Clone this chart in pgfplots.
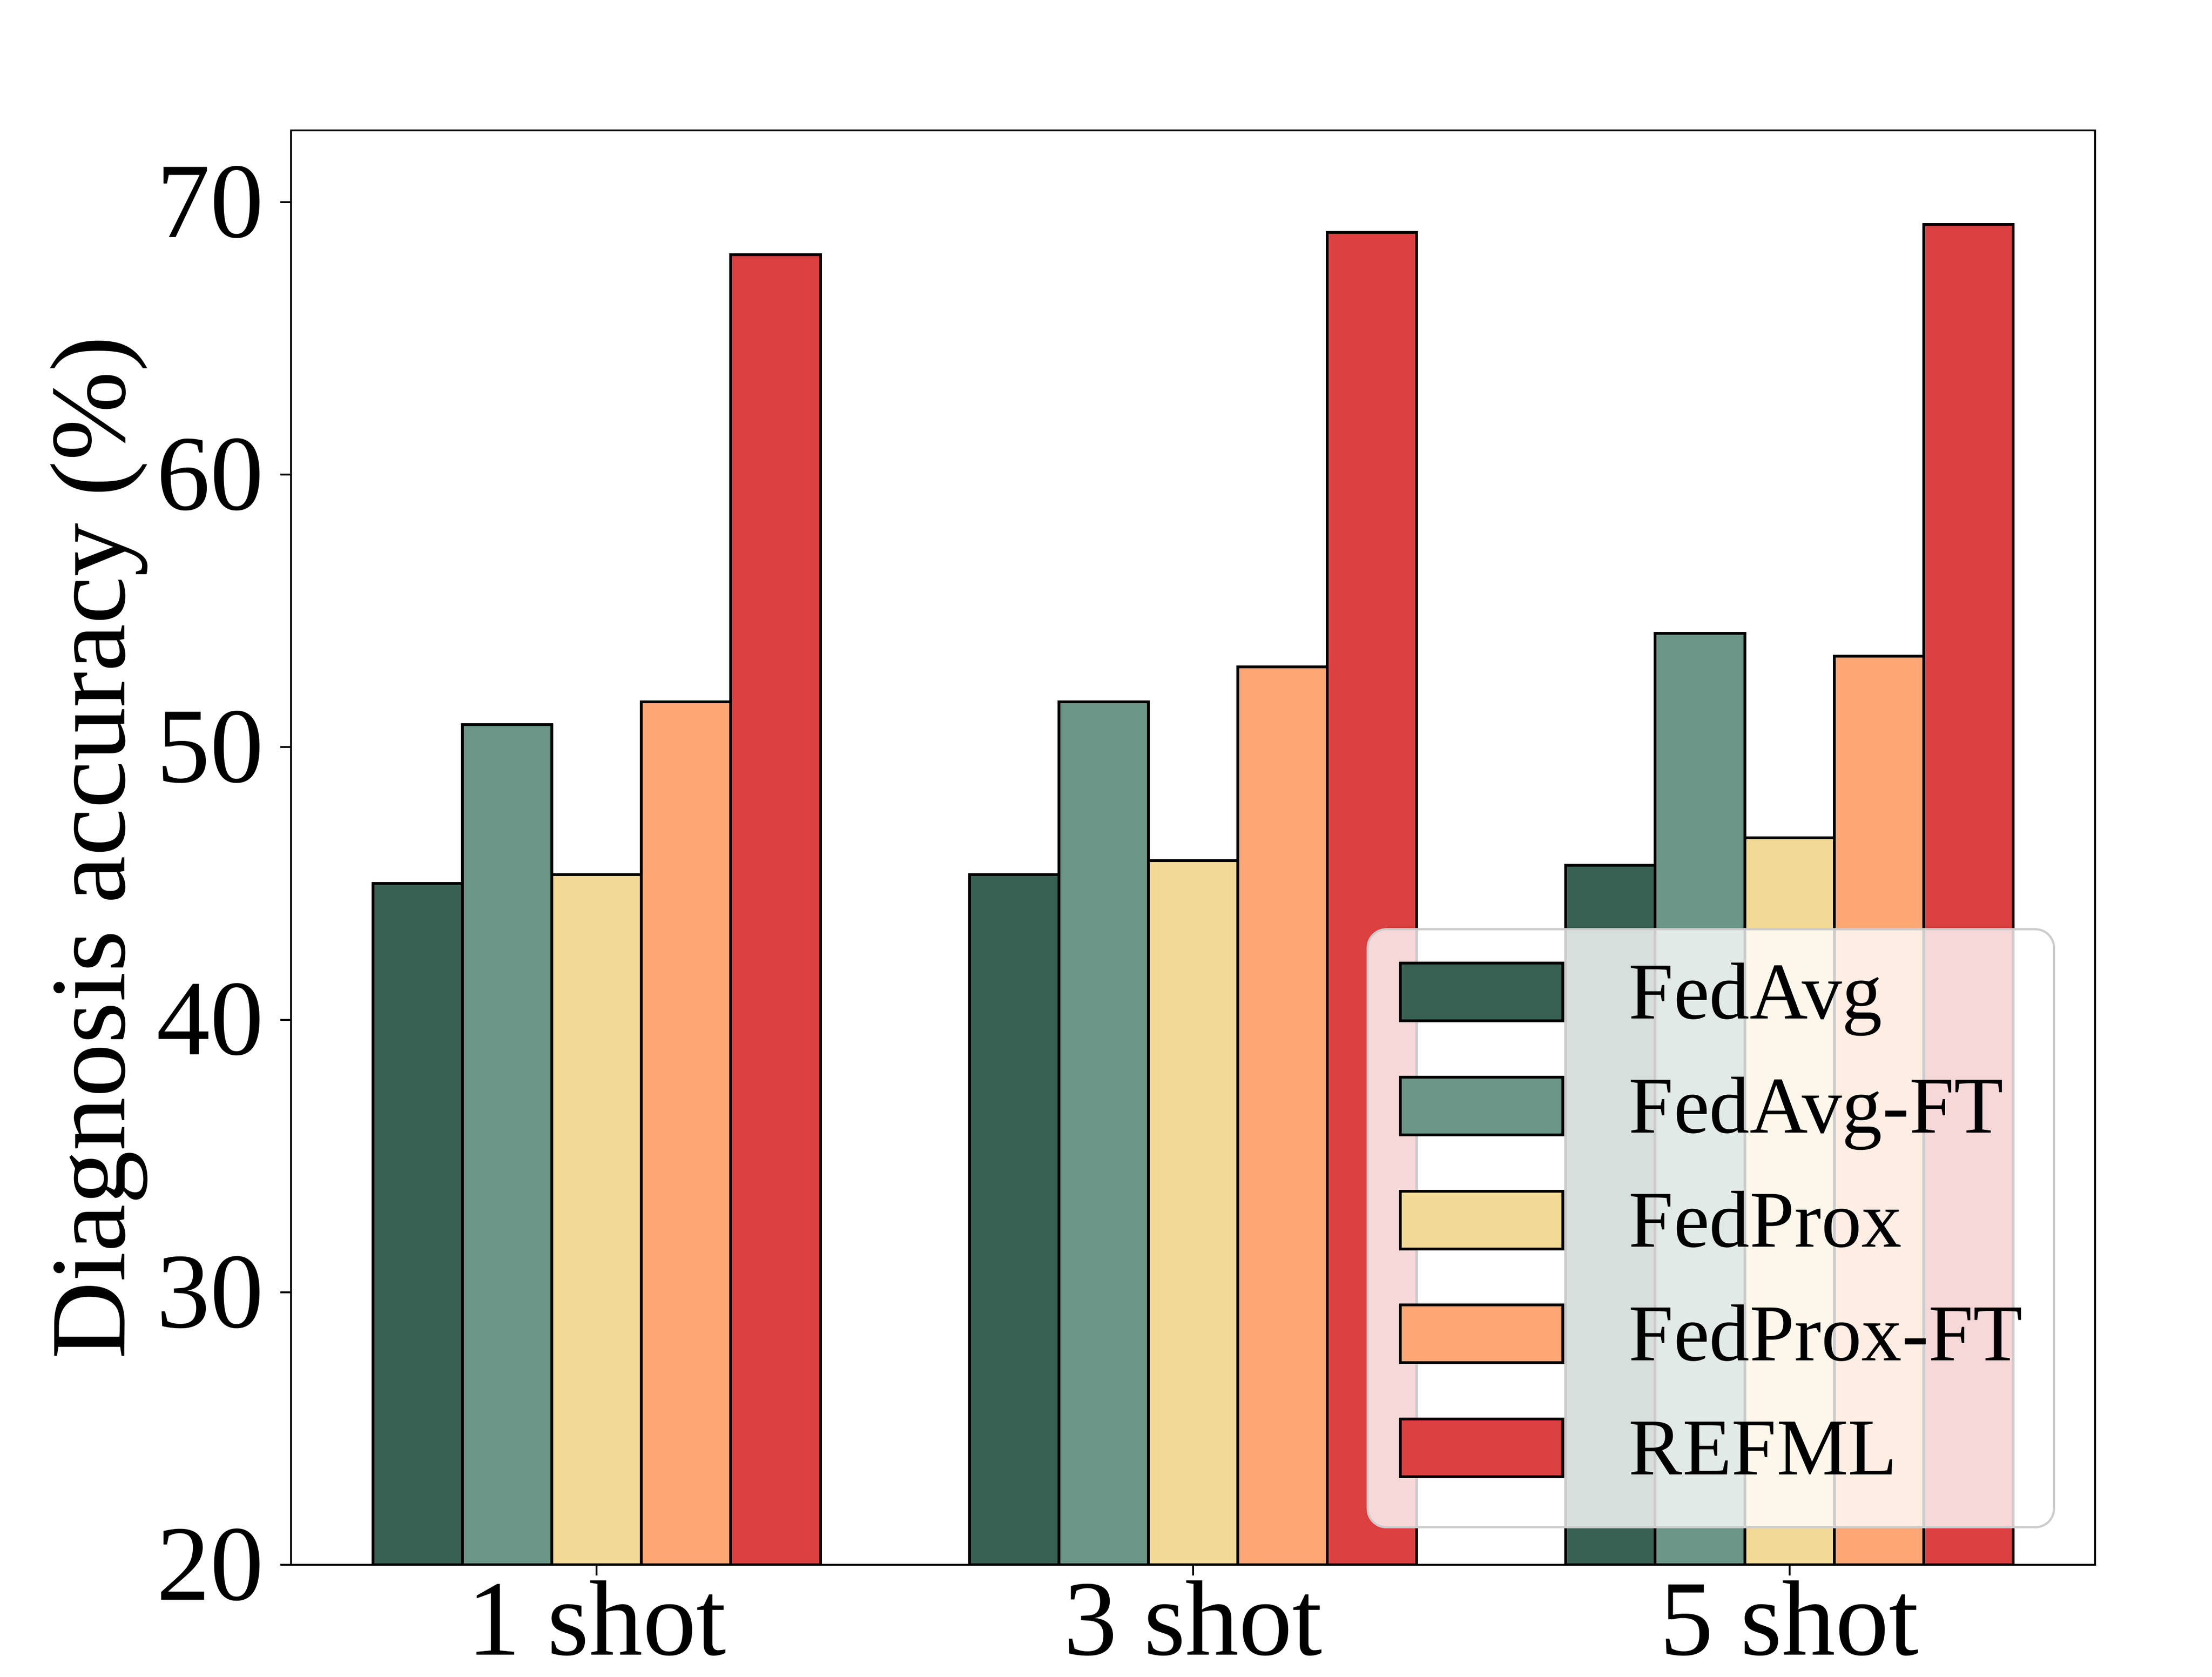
\documentclass[border=0pt]{standalone}
\usepackage{fontspec}
\setmainfont{Liberation Serif}
\usepackage{pgfplots}
\pgfplotsset{compat=1.18}
\definecolor{cA}{HTML}{386154}
\definecolor{cB}{HTML}{6B9687}
\definecolor{cC}{HTML}{F2DA96}
\definecolor{cD}{HTML}{FEA674}
\definecolor{cE}{HTML}{DB4041}
\begin{document}
\begin{tikzpicture}
\path[use as bounding box] (-62.5pt,-24pt) rectangle (412.5pt,336pt);
\begin{axis}[
  at={(0,0)}, anchor=south west,
  width=387.4pt, height=308pt, scale only axis,
  xmin=-0.5125, xmax=2.5125, ymin=20, ymax=72.63,
  xtick={0,1,2}, xticklabels={1 shot,3 shot,5 shot},
  ytick={20,30,40,50,60,70},
  tick pos=left, tick align=outside, major tick length=2.3pt,
  axis line style={line width=0.4pt},
  every tick/.style={black, line width=0.4pt},
  /pgf/number format/assume math mode=true,
  ticklabel style={font=\fontsize{23}{27}\selectfont, inner sep=0pt},
  yticklabel style={xshift=-3.3pt},
  xticklabel style={yshift=-0.9pt},
  every axis y label/.style={at={(axis description cs:-0.0922,0.5)}, rotate=90, anchor=base, font=\fontsize{23}{27}\selectfont},
  ylabel={Diagnosis accuracy (\%)},
  legend cell align=left,
  legend style={
    at={(axis description cs:0.9778,0.4438)}, anchor=north east,
    draw=black!20, line width=0.45pt, rounded corners=4pt,
    fill=white, fill opacity=0.8, text opacity=1, draw opacity=1,
    inner xsep=6.7pt, inner ysep=7pt,
    row sep=7.94pt, column sep=13.9pt,
    font=\fontsize{17.3}{20}\selectfont,
    cells={anchor=base west},
    nodes={inner sep=0pt, text height=11.93pt, text depth=4.3pt},
  },
  legend image code/.code={\draw[#1, fill opacity=1, draw opacity=1, rounded corners=0pt, line width=0.6pt] (0pt,-0.47pt) rectangle (34.9pt,11.93pt);},
]
\addplot[ybar, bar width=0.15, bar shift=-0.3, fill=cA, draw=black, line width=0.6pt]
  coordinates {(0,45.00) (1,45.32) (2,45.67)};
\addlegendentry{FedAvg}
\addplot[ybar, bar width=0.15, bar shift=-0.15, fill=cB, draw=black, line width=0.6pt]
  coordinates {(0,50.83) (1,51.66) (2,54.17)};
\addlegendentry{FedAvg-FT}
\addplot[ybar, bar width=0.15, bar shift=0, fill=cC, draw=black, line width=0.6pt]
  coordinates {(0,45.32) (1,45.84) (2,46.67)};
\addlegendentry{FedProx}
\addplot[ybar, bar width=0.15, bar shift=0.15, fill=cD, draw=black, line width=0.6pt]
  coordinates {(0,51.66) (1,52.94) (2,53.34)};
\addlegendentry{FedProx-FT}
\addplot[ybar, bar width=0.15, bar shift=0.3, fill=cE, draw=black, line width=0.6pt]
  coordinates {(0,68.07) (1,68.89) (2,69.18)};
\addlegendentry{REFML}
\end{axis}
\end{tikzpicture}
\end{document}
